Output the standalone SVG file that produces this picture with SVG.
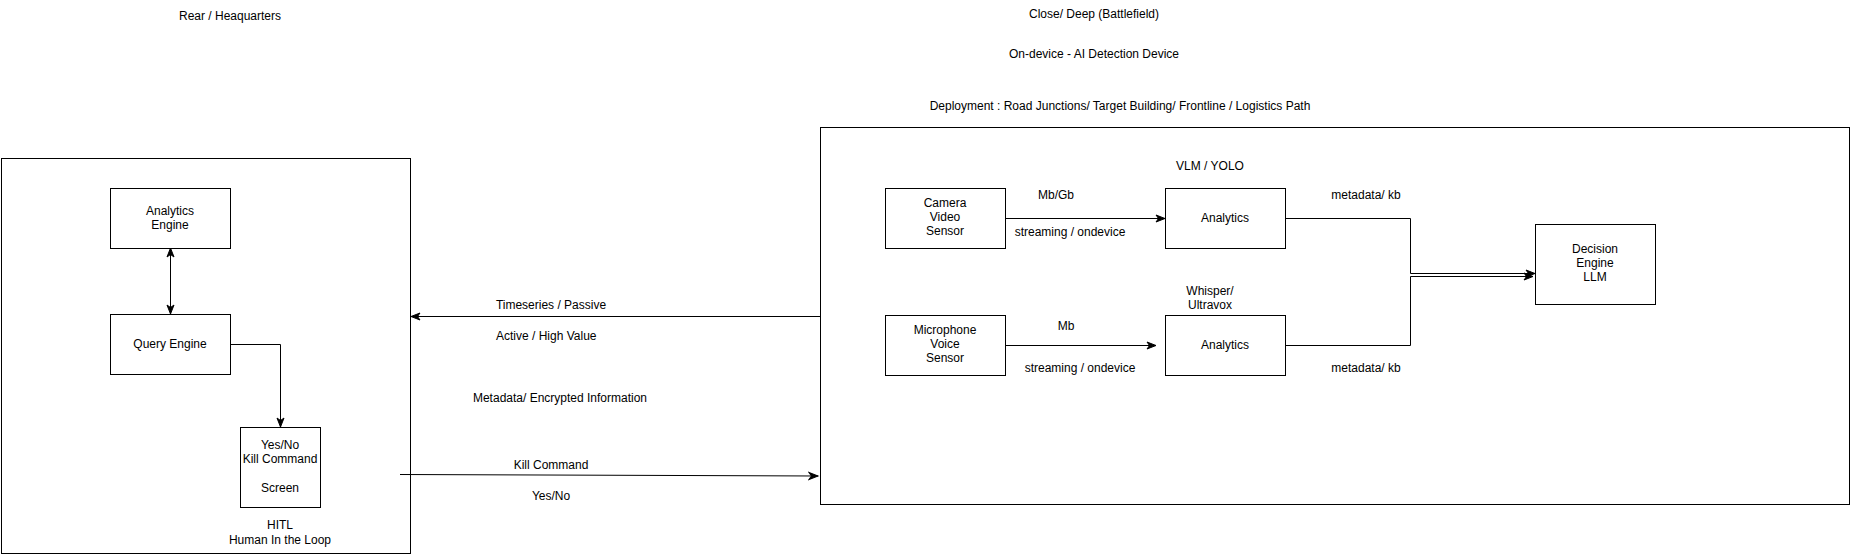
<svg xmlns="http://www.w3.org/2000/svg" width="1851" height="555" viewBox="0 0 1851 555">
<defs>
<style>
.box{fill:#fff;stroke:#000;stroke-width:1}
.cont{fill:none;stroke:#000;stroke-width:1}
.t{font-family:"Liberation Sans",Arial,sans-serif;font-size:12px;fill:#000;text-anchor:middle}
.tl{font-family:"Liberation Sans",Arial,sans-serif;font-size:12px;fill:#000;text-anchor:start}
.c{fill:none;stroke:#000;stroke-width:1}
</style>
<marker id="arr" markerUnits="userSpaceOnUse" markerWidth="12" markerHeight="10" refX="10" refY="4.5" orient="auto-start-reverse">
<path d="M1,1 L10,4.5 L1,8 L3.5,4.5 Z" fill="#000" stroke="#000" stroke-width="1"/>
</marker>
</defs>
<rect width="1851" height="555" fill="#fff"/>

<g id="titles">
<text class="t" x="230" y="20">Rear / Heaquarters</text>
<text class="t" x="1094" y="18">Close/ Deep (Battlefield)</text>
<text class="t" x="1094" y="58">On-device - AI Detection Device</text>
<text class="t" x="1120" y="110">Deployment : Road Junctions/ Target Building/ Frontline / Logistics Path</text>
</g>

<g id="rear-container">
<rect class="cont" x="1.5" y="158.5" width="409" height="395"/>
<text class="t" x="280" y="529">HITL</text>
<text class="t" x="280" y="544">Human In the Loop</text>
</g>

<g id="field-container">
<rect class="cont" x="820.5" y="127.5" width="1029" height="377"/>
</g>

<g id="connectors">
<line class="c" x1="170.5" y1="248" x2="170.5" y2="314" marker-start="url(#arr)" marker-end="url(#arr)"/>
<polyline class="c" points="230,344.5 280.5,344.5 280.5,427" marker-end="url(#arr)"/>
<line class="c" x1="820" y1="316.5" x2="411" y2="316.5" marker-end="url(#arr)"/>
<line class="c" x1="400" y1="474.5" x2="818" y2="476" marker-end="url(#arr)"/>
<line class="c" x1="1005" y1="218.5" x2="1165" y2="218.5" marker-end="url(#arr)"/>
<line class="c" x1="1005" y1="345.5" x2="1156" y2="345.5" marker-end="url(#arr)"/>
<polyline class="c" points="1285,218.5 1410.5,218.5 1410.5,273.5 1535,273.5" marker-end="url(#arr)"/>
<polyline class="c" points="1285,345.5 1410.5,345.5 1410.5,276.5 1533,276.5" marker-end="url(#arr)"/>
</g>

<g id="labels">
<text class="t" x="551" y="309">Timeseries / Passive</text>
<text class="tl" x="496" y="340">Active / High Value</text>
<text class="t" x="560" y="402">Metadata/ Encrypted Information</text>
<text class="t" x="551" y="469">Kill Command</text>
<text class="t" x="551" y="500">Yes/No</text>
<text class="t" x="1056" y="199">Mb/Gb</text>
<text class="t" x="1070" y="236">streaming / ondevice</text>
<text class="t" x="1210" y="170">VLM / YOLO</text>
<text class="t" x="1366" y="199">metadata/ kb</text>
<text class="t" x="1210" y="295">Whisper/</text>
<text class="t" x="1210" y="309">Ultravox</text>
<text class="t" x="1066" y="330">Mb</text>
<text class="t" x="1080" y="372">streaming / ondevice</text>
<text class="t" x="1366" y="372">metadata/ kb</text>
</g>

<g id="analytics-engine">
<rect class="box" x="110.5" y="188.5" width="120" height="60"/>
<text class="t" x="170" y="215">Analytics</text>
<text class="t" x="170" y="229">Engine</text>
</g>

<g id="query-engine">
<rect class="box" x="110.5" y="314.5" width="120" height="60"/>
<text class="t" x="170" y="348">Query Engine</text>
</g>

<g id="kill-screen">
<rect class="box" x="240.5" y="427.5" width="80" height="80"/>
<text class="t" x="280" y="449">Yes/No</text>
<text class="t" x="280" y="463">Kill Command</text>
<text class="t" x="280" y="492">Screen</text>
</g>

<g id="camera-sensor">
<rect class="box" x="885.5" y="188.5" width="120" height="60"/>
<text class="t" x="945" y="207">Camera</text>
<text class="t" x="945" y="221">Video</text>
<text class="t" x="945" y="235">Sensor</text>
</g>

<g id="microphone-sensor">
<rect class="box" x="885.5" y="315.5" width="120" height="60"/>
<text class="t" x="945" y="334">Microphone</text>
<text class="t" x="945" y="348">Voice</text>
<text class="t" x="945" y="362">Sensor</text>
</g>

<g id="analytics-video">
<rect class="box" x="1165.5" y="188.5" width="120" height="60"/>
<text class="t" x="1225" y="222">Analytics</text>
</g>

<g id="analytics-audio">
<rect class="box" x="1165.5" y="315.5" width="120" height="60"/>
<text class="t" x="1225" y="349">Analytics</text>
</g>

<g id="decision-engine">
<rect class="box" x="1535.5" y="224.5" width="120" height="80"/>
<text class="t" x="1595" y="253">Decision</text>
<text class="t" x="1595" y="267">Engine</text>
<text class="t" x="1595" y="281">LLM</text>
</g>
</svg>
